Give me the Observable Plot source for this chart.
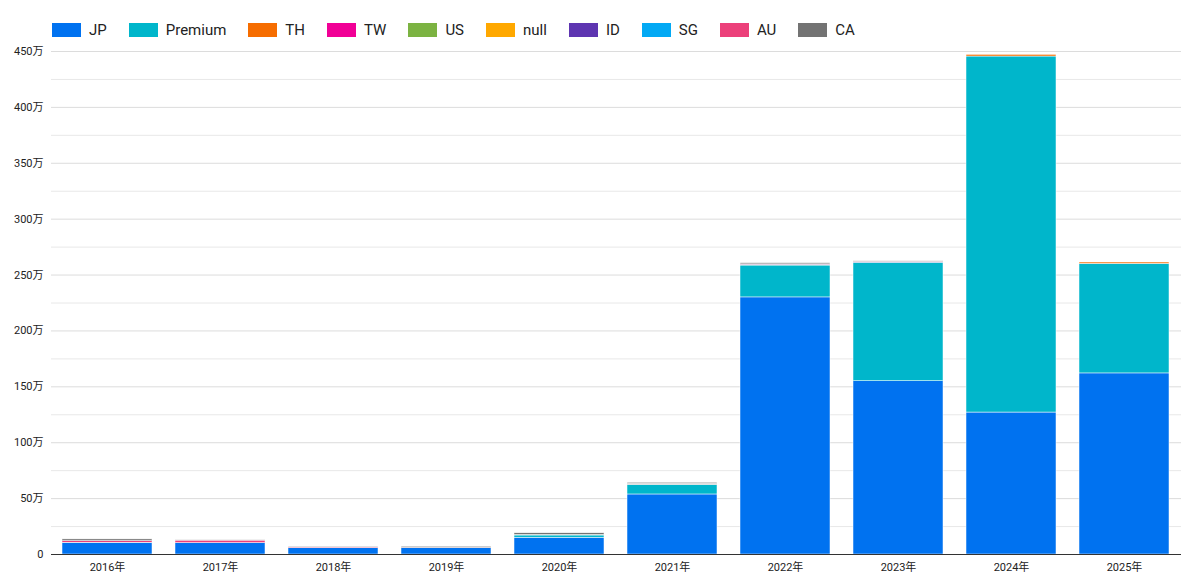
<!DOCTYPE html>
<html>
<head>
<meta charset="utf-8">
<script src="https://cdn.jsdelivr.net/npm/d3@7"></script>
<script src="https://cdn.jsdelivr.net/npm/@observablehq/plot@0.6"></script>
<style>
html, body { margin: 0; background: #fff; font-family: Roboto, "Noto Sans CJK JP", sans-serif; }
#legend { height: 45px; display: flex; align-items: flex-end; padding-left: 52px; padding-bottom: 6px; box-sizing: border-box; font-size: 15px; color: #222; }
#legend .item { display: flex; align-items: center; margin-right: 22px; }
#legend .sw { width: 29px; height: 14px; margin-right: 8px; }
#plot svg { display: block; }
</style>
</head>
<body>
<div id="legend"></div>
<div id="plot"></div>
<script>
const years = ["2016年", "2017年", "2018年", "2019年", "2020年", "2021年", "2022年", "2023年", "2024年", "2025年"];
const seriesNames = ["JP", "Premium", "TH", "TW", "US", "null", "ID", "SG", "AU", "CA"];
const colors = ["#0072f0", "#00b6cb", "#f66d00", "#f10096", "#7cb342", "#ffa800", "#5e35b1", "#03a9f4", "#ec407a", "#737373"];

// values in 万
const JP      = [10.2, 10.2, 5.6, 5.6, 15.0, 53.7, 230.0, 155.0, 127.0, 162.0];
const Premium = [0.3, 0, 0, 0, 2.0, 8.5, 28.5, 106.0, 318.5, 98.0];
const TH      = [0, 0, 0, 0, 0, 0, 0, 0, 1.5, 1.2];
const TW      = [0, 0, 0, 0, 0, 0, 0, 0, 0, 0];
const US      = [0, 0, 0, 0, 0.5, 0.3, 0.3, 0, 0, 0];
const nullS   = [0, 0, 0, 0, 0, 0, 0, 0, 0, 0];
const ID      = [0, 0, 0, 0, 0, 0.3, 0.5, 0.5, 0, 0];
const SG      = [0, 0, 0, 0, 0, 0, 0, 0, 0, 0];
const AU      = [1.5, 2.2, 0.7, 0.3, 0, 0.3, 0.3, 0.3, 0, 0];
const CA      = [1.5, 0.3, 0.7, 1.0, 1.5, 1.0, 1.0, 0.5, 0, 0];

const seriesValues = [JP, Premium, TH, TW, US, nullS, ID, SG, AU, CA];
const yMajor = [0, 50, 100, 150, 200, 250, 300, 350, 400, 450];
const yMinor = [25, 75, 125, 175, 225, 275, 325, 375, 425];

const rows = [];
seriesNames.forEach((s, i) => {
  years.forEach((y, j) => {
    rows.push({ year: y, series: s, value: seriesValues[i][j] });
  });
});

const legend = document.getElementById("legend");
seriesNames.forEach((s, i) => {
  const it = document.createElement("div");
  it.className = "item";
  it.innerHTML = `<span class="sw" style="background:${colors[i]}"></span><span>${s}</span>`;
  legend.append(it);
});

const plot = Plot.plot({
  width: 1200,
  height: 541,
  marginTop: 6,
  marginBottom: 32,
  marginLeft: 51,
  marginRight: 19,
  style: { fontFamily: "Roboto, 'Noto Sans CJK JP', sans-serif", fontSize: "11px", color: "#222" },
  x: { domain: years, paddingInner: 0.2, paddingOuter: 0.1, label: null, tickSize: 0, tickPadding: 9 },
  y: { domain: [0, 450], label: null, ticks: yMajor, tickSize: 0, tickPadding: 8,
       tickFormat: d => d === 0 ? "0" : d + "万" },
  color: { domain: seriesNames, range: colors },
  marks: [
    Plot.ruleY(yMinor, { stroke: "#e8e8e8", strokeWidth: 1 }),
    Plot.ruleY(yMajor.slice(1), { stroke: "#dcdcdc", strokeWidth: 1 }),
    Plot.barY(rows, Plot.stackY({ order: seriesNames }, {
      x: "year", y: "value", fill: "series", stroke: "white", strokeWidth: 0.5
    })),
    Plot.ruleY([0], { stroke: "#333", strokeWidth: 1 })
  ]
});
document.getElementById("plot").append(plot);
</script>
</body>
</html>
